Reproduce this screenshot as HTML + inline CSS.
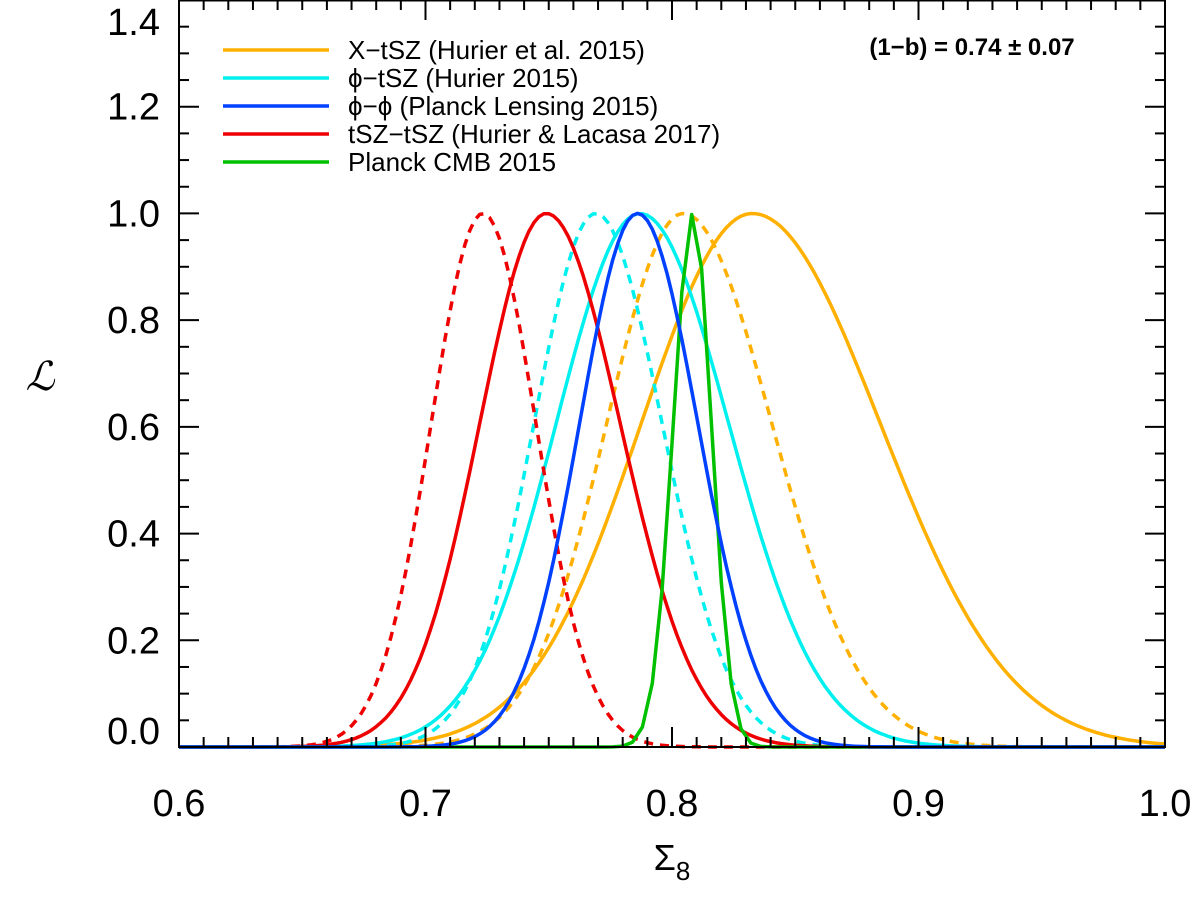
<!DOCTYPE html>
<html><head><meta charset="utf-8">
<style>
html,body{margin:0;padding:0;background:#fff;}
svg{display:block;font-family:"Liberation Sans",sans-serif;}
</style></head>
<body>
<svg id="chart" width="1200" height="898" viewBox="0 0 1200 898" xmlns="http://www.w3.org/2000/svg">
  <g id="curves"></g>
  <g id="axes"></g>
  <g id="legend"></g>
  <text x="972" y="55" font-size="24" font-weight="bold" text-anchor="middle">(1−b) = 0.74 ± 0.07</text>
  <text x="672" y="870" font-size="36" text-anchor="middle">Σ<tspan font-size="26" dy="10">8</tspan></text>
  <text x="40" y="390" font-size="40" font-style="italic" font-family="Liberation Serif, serif" text-anchor="middle">ℒ</text>
</svg>
<script>
// ---- data ----
const seriesNames = ["xtsz-solid","xtsz-dashed","phitsz-solid","phitsz-dashed","tsztsz-solid","tsztsz-dashed","planck-cmb","phiphi"];
const seriesColors = ["#ffb000","#ffb000","#00f0f0","#00f0f0","#ee0000","#ee0000","#00c000","#0040ff"];
const seriesDashed = [false,true,false,true,false,true,false,false];
const peakCenters = [0.8325,0.8045,0.787,0.769,0.749,0.7233,0.8085,0.786];
const sigmaLeft  = [0.045,0.031,0.034,0.025,0.027,0.021,0.008,0.0235];
const sigmaRight = [0.052,0.036,0.036,0.027,0.030,0.0215,0.0075,0.0245];
const xTicks = [0.6,0.7,0.8,0.9,1.0];
const xTickLabels = ["0.6","0.7","0.8","0.9","1.0"];
const yTicks = [0.0,0.2,0.4,0.6,0.8,1.0,1.2,1.4];
const yTickLabels = ["0.0","0.2","0.4","0.6","0.8","1.0","1.2","1.4"];
const legendLabels = ["X−tSZ (Hurier et al. 2015)","ϕ−tSZ (Hurier 2015)","ϕ−ϕ (Planck Lensing 2015)","tSZ−tSZ (Hurier & Lacasa 2017)","Planck CMB 2015"];
const legendColors = ["#ffb000","#00f0f0","#0040ff","#ee0000","#00c000"];

// ---- axes ----
const L=179,R=1165,T=0,B=747;
const xMin=0.6,xMax=1.0,yMin=0,yMax=1.4;
const sx=v=>L+(v-xMin)/(xMax-xMin)*(R-L);
const sy=v=>B-(v-yMin)/(yMax-yMin)*(B-T);
const NS="http://www.w3.org/2000/svg";
function mk(tag,attrs,parent){const e=document.createElementNS(NS,tag);for(const k in attrs)e.setAttribute(k,attrs[k]);parent.appendChild(e);return e;}

const curves=document.getElementById('curves');
seriesNames.forEach((nm,i)=>{
  let d="";
  const step = nm==="planck-cmb" ? 0.004 : 0.002;
  for(let x=xMin;x<=xMax+1e-9;x+=step){
    const s = x<peakCenters[i]?sigmaLeft[i]:sigmaRight[i];
    const y=Math.exp(-0.5*Math.pow((x-peakCenters[i])/s,2));
    d+=(d?"L":"M")+sx(x).toFixed(1)+","+sy(y).toFixed(1);
  }
  const p=mk('path',{d:d,fill:"none",stroke:seriesColors[i],"stroke-width":3.5,"stroke-linejoin":"round"},curves);
  if(seriesDashed[i]) p.setAttribute('stroke-dasharray','9 7');
  
  
});

const axes=document.getElementById('axes');
const frame=mk('rect',{x:L,y:T+0.5,width:R-L,height:B-T-0.5,fill:"none",stroke:"#000","stroke-width":2},axes);


for(let k=0;k<=40;k++){
  const v=xMin+k*0.01, X=sx(v), major=(k%10===0), len=major?20:10;
  mk('line',{x1:X,y1:B,x2:X,y2:B-len,stroke:"#000","stroke-width":2},axes);
  mk('line',{x1:X,y1:T,x2:X,y2:T+len,stroke:"#000","stroke-width":2},axes);
}
xTicks.forEach((v,i)=>{
  const t=mk('text',{x:sx(v),y:816,"font-size":38,"text-anchor":"middle"},axes);
  t.textContent=xTickLabels[i];
  
  
});
for(let k=0;k<=28;k++){
  const v=k*0.05, Y=sy(v), major=(k%4===0), len=major?20:10;
  mk('line',{x1:L,y1:Y,x2:L+len,y2:Y,stroke:"#000","stroke-width":2},axes);
  mk('line',{x1:R,y1:Y,x2:R-len,y2:Y,stroke:"#000","stroke-width":2},axes);
}
yTicks.forEach((v,i)=>{
  let Y=sy(v)+13;
  if(v===0) Y=sy(v)-3;
  if(v===1.4) Y=35;
  const t=mk('text',{x:160,y:Y,"font-size":38,"text-anchor":"end"},axes);
  t.textContent=yTickLabels[i];
  
  
});

const lg=document.getElementById('legend');
legendLabels.forEach((lab,i)=>{
  const Y=50+i*28;
  const g=mk('g',{},lg);
  
  
  mk('line',{x1:223,y1:Y,x2:329,y2:Y,stroke:legendColors[i],"stroke-width":3.5},g);
  const t=mk('text',{x:348,y:Y+9,"font-size":26},g);
  t.textContent=lab;
});
</script>
</body></html>
